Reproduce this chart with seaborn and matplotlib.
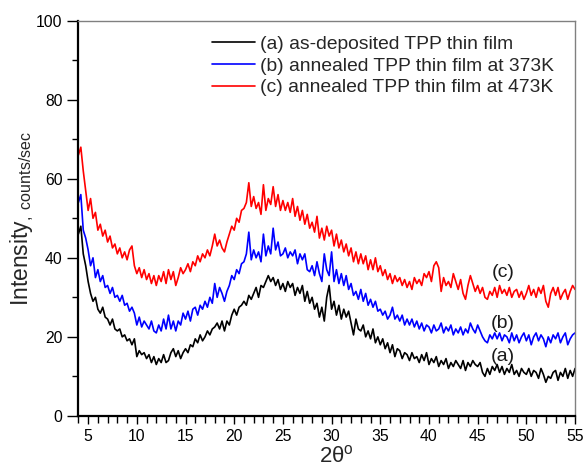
import numpy as np
import pandas as pd
import matplotlib
matplotlib.use("Agg")
import matplotlib.pyplot as plt
from matplotlib.ticker import MultipleLocator
import seaborn as sns

# 2-theta scan grid (degrees), 0.25 deg step from 4 to 55
two_theta = np.arange(4.0, 55.001, 0.25)

# (a) as-deposited film
as_deposited = [
    46, 48, 41, 38,
    34, 31, 29, 30,
    27, 26, 27.5, 25,
    24.5, 23, 24.5, 22,
    21.5, 22, 20, 20.5,
    19, 19.5, 18, 19.5,
    15, 16.5, 15.5, 16,
    14.5, 15.5, 13.5, 15,
    13, 14.5, 13.5, 15.5,
    13.5, 14, 16, 17,
    15, 16.5, 14.5, 16,
    17, 16, 18, 17.5,
    19.5, 18.5, 20.5, 19,
    20, 21.5, 20.5, 22,
    22.5, 23.5, 22, 24,
    21.5, 24, 23, 25.5,
    27, 25.5, 27.5, 28,
    29, 28, 30.5, 29.5,
    31, 32.5, 30, 33,
    32.5, 34, 35.5, 34,
    35, 33, 34.5, 32,
    33.5, 31.5, 34, 32.5,
    33.5, 30.5, 32.5, 31,
    33, 29, 31.5, 28.5,
    30, 27, 28.5, 25,
    27.5, 24, 30, 33,
    27, 29, 25.5, 28,
    24.5, 27, 25, 26.5,
    23.5, 20.5, 24.5, 22,
    21.5, 23, 20, 21.5,
    19.5, 22, 18.5, 20,
    18, 19.5, 17, 18.5,
    16, 18, 15, 17,
    16.5, 14.5, 16, 15.5,
    14, 16, 14.5, 15,
    13.5, 15.5, 14, 16,
    13, 14.5, 13.5, 15,
    12.5, 14, 13, 14.5,
    12, 13.5, 12.5, 14,
    13, 12, 14, 11.5,
    13.5, 12.5, 14, 13,
    12.5, 13.5, 11, 10,
    12, 10.5, 12.5, 11.5,
    13, 11, 12.5, 10.5,
    12, 11, 13, 10.5,
    11.5, 10, 12, 11,
    10.5, 12, 10, 11.5,
    11, 9.5, 12, 10.5,
    8.5, 10, 9.5, 11,
    11.5, 9, 11, 10,
    12, 9.5, 11.5, 10,
    12,
]

# (b) annealed at 373 K
annealed_373 = [
    54, 56, 47, 45,
    42, 38, 40, 35,
    37, 34, 35.5, 32.5,
    33, 31, 32.5, 30,
    30.5, 29, 30.5, 28,
    28.5, 26.5, 27.5, 26,
    23, 25, 22.5, 24,
    23, 22, 24, 21.5,
    21, 23, 21.5, 24.5,
    22, 25.5, 22, 24,
    21.5, 24, 23, 26,
    24.5, 26.5, 24, 27,
    27.5, 25.5, 28, 27,
    29, 27.5, 30, 28.5,
    33.5, 30, 32.5, 31,
    29, 31.5, 33, 35.5,
    34.5, 37, 36, 38.5,
    39, 41, 46.5, 39.5,
    42, 40, 41.5, 39,
    46, 40.5, 43, 41,
    47.5, 42, 44, 40.5,
    41, 42.5, 40, 41.5,
    40.5, 42, 38.5, 41,
    39.5, 41, 37, 36.5,
    38, 35.5, 39, 36,
    34, 41, 37, 35.5,
    41.5, 34, 37, 33.5,
    36, 33, 35.5, 32,
    33.5, 30.5, 31.5, 29.5,
    32, 29, 31, 28,
    29.5, 27.5, 29, 26.5,
    27, 25.5, 26.5, 24.5,
    25.5, 27.5, 24.5, 25.5,
    24, 25.5, 23, 24.5,
    23, 24.5, 22.5, 24,
    22, 23.5, 21.5, 23,
    22.5, 21, 23, 21.5,
    22, 23.5, 21, 22.5,
    21.5, 23, 20.5, 22,
    21, 22.5, 20.5, 22,
    21, 23.5, 22, 21,
    23, 21.5, 20, 19,
    18.5, 20.5, 19.5, 21,
    19.5, 21, 19, 20.5,
    20, 18.5, 21, 19,
    20.5, 18.5, 20, 21,
    19, 20.5, 18, 20,
    21, 19, 20.5, 19.5,
    17.5, 20, 18.5, 20.5,
    19.5, 21, 18.5, 20,
    21, 18, 19.5, 20.5,
    21,
]

# (c) annealed at 473 K
annealed_473 = [
    66, 68, 62, 57,
    52, 55, 50, 51.5,
    47, 48.5, 45.5, 47,
    44, 45.5, 42.5, 43.5,
    41, 42.5, 40, 41.5,
    39.5, 42, 43, 38,
    36, 37.5, 35, 37,
    34.5, 36, 33.5, 35.5,
    33, 35.5, 34, 36.5,
    33.5, 37, 34.5, 36.5,
    33, 35, 37.5, 36,
    37, 38.5, 36.5, 39,
    38, 40.5, 39, 41,
    40, 42, 40.5, 43,
    46, 43, 44.5, 42.5,
    41.5, 44, 46, 48,
    47, 50, 49, 52,
    52.5, 54, 59, 53,
    55.5, 52.5, 54, 51,
    58.5, 52, 55, 53.5,
    58, 53, 56, 52,
    54.5, 52, 54, 51.5,
    55, 50.5, 53, 49.5,
    52, 48.5, 51, 47.5,
    49, 46.5, 50.5, 45,
    47.5, 44.5, 48, 45.5,
    47, 43, 46, 42.5,
    44.5, 41.5, 43.5, 40.5,
    42.5, 39, 41.5, 38.5,
    41, 38.5, 40.5, 37,
    39.5, 37, 40, 36.5,
    38, 35.5, 37, 34.5,
    36, 33.5, 35.5, 34,
    35, 33, 34.5, 32.5,
    34, 32, 35, 33.5,
    34.5, 33, 36, 35,
    36.5, 34, 38, 39,
    37.5, 31.5, 35, 33,
    34, 32.5, 36, 34,
    32, 34.5, 31, 29.5,
    33, 35.5, 33.5, 31.5,
    33, 31, 32.5, 30,
    29.5, 31.5, 30.5, 32.5,
    30, 33, 31, 32,
    30.5, 32.5, 30, 31.5,
    32, 30, 31.5, 29.5,
    31, 33, 30.5, 32,
    30, 32.5, 31, 33,
    29, 27.5, 31, 32.5,
    30.5, 32.5, 29.5, 31,
    32, 29.5, 31.5, 33,
    32,
]

labels = [
    "(a) as-deposited TPP thin film",
    "(b) annealed TPP thin film at 373K",
    "(c) annealed TPP thin film at 473K",
]
colors = ["#000000", "#0000ff", "#ff0000"]
curve_tags = ["(a)", "(b)", "(c)"]
tag_x = 47.6
tag_y = [15.1, 23.5, 36.2]

sns.set_style("ticks")
plt.rcParams["font.family"] = ["Liberation Sans", "DejaVu Sans"]
plt.rcParams["mathtext.fontset"] = "custom"
plt.rcParams["mathtext.rm"] = "Liberation Sans"
plt.rcParams["mathtext.it"] = "Liberation Sans:italic"

fig = plt.figure(figsize=(5.85, 4.71), dpi=100)
ax = fig.add_axes([0.134, 0.117, 0.849, 0.839])

for series, lab, col in zip([as_deposited, annealed_373, annealed_473], labels, colors):
    df = pd.DataFrame({"two_theta": two_theta, "intensity": series})
    sns.lineplot(data=df, x="two_theta", y="intensity", ax=ax, color=col,
                 lw=1.2, label=lab, estimator=None)

for t, y in zip(curve_tags, tag_y):
    ax.text(tag_x, y, t, fontsize=14, color="#1a1a1a", ha="center", va="center")

ax.set_xlim(4, 55)
ax.set_ylim(0, 100)
ax.xaxis.set_major_locator(MultipleLocator(5))
ax.xaxis.set_minor_locator(MultipleLocator(1))
ax.yaxis.set_major_locator(MultipleLocator(20))
ax.yaxis.set_minor_locator(MultipleLocator(10))
ax.set_xticks([5, 10, 15, 20, 25, 30, 35, 40, 45, 50, 55])

ax.tick_params(axis="both", which="both", direction="out", labelsize=11.3,
               colors="black", width=1.0)
ax.tick_params(axis="y", which="major", length=8)
ax.tick_params(axis="y", which="minor", length=4)
ax.tick_params(axis="x", which="major", length=6)
ax.tick_params(axis="x", which="minor", length=5)

for side in ["left", "bottom"]:
    ax.spines[side].set_color("black")
    ax.spines[side].set_linewidth(1.6)
for side in ["top", "right"]:
    ax.spines[side].set_visible(True)
    ax.spines[side].set_color("#808080")
    ax.spines[side].set_linewidth(1.0)

ax.set_xlabel("2θ$^{\\rm o}$", fontsize=16)
ax.xaxis.set_label_coords(0.52, -0.075)
ax.set_ylabel("Intensity$_{\\rm ,\\ counts/sec}$", fontsize=16.5, labelpad=0)

ax.legend(loc="upper left", bbox_to_anchor=(0.269, 0.962), frameon=False,
          fontsize=13.9, handlelength=2.24, handletextpad=0.25,
          labelspacing=0.21, borderpad=0, borderaxespad=0)

fig.savefig("out.png", dpi=100)
